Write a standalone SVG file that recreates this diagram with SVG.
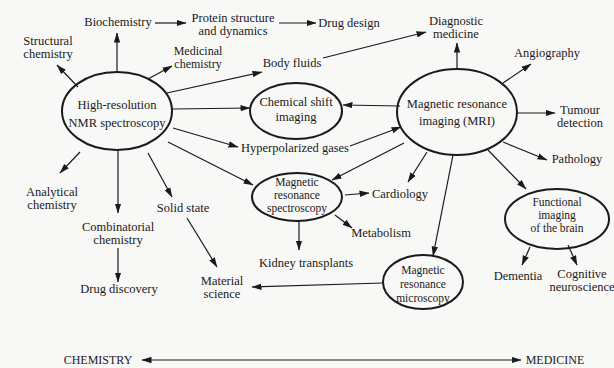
<svg xmlns="http://www.w3.org/2000/svg" width="614" height="368" viewBox="0 0 614 368">
<defs>
<marker id="ah" markerUnits="userSpaceOnUse" markerWidth="10" markerHeight="7" refX="9.5" refY="3.5" orient="auto-start-reverse">
<path d="M0,0.3 L10,3.5 L0,6.7 Z" fill="#1a1a1a"/>
</marker>
<style>
text{font-family:"Liberation Serif","Times New Roman",serif;font-size:12.5px;fill:#1a1a1a;text-anchor:middle}
.sm{font-size:11.5px}
.md{font-size:12px}
ellipse{fill:none;stroke:#1a1a1a;stroke-width:2}
.c line{stroke:#1a1a1a;stroke-width:1.2;fill:none;marker-end:url(#ah)}
.c .both{marker-start:url(#ah)}
</style>
</defs>
<rect width="614" height="368" fill="#f8f8f7"/>
<g class="c" id="connectors">
<line x1="155" y1="23" x2="186" y2="23"/>
<line x1="279" y1="23" x2="316" y2="23"/>
<line x1="117" y1="72" x2="117" y2="33"/>
<line x1="78" y1="87" x2="57" y2="65"/>
<line x1="148" y1="79" x2="172" y2="66"/>
<line x1="167" y1="93" x2="262" y2="72"/>
<line x1="323" y1="58" x2="426" y2="32"/>
<line x1="172" y1="109" x2="250" y2="108"/>
<line x1="173" y1="128" x2="238" y2="147"/>
<line x1="168" y1="142" x2="253" y2="185"/>
<line x1="80" y1="152" x2="60" y2="173"/>
<line x1="118" y1="151" x2="118" y2="213"/>
<line x1="118" y1="248" x2="118" y2="282"/>
<line x1="148" y1="153" x2="172" y2="197"/>
<line x1="187" y1="218" x2="217" y2="267"/>
<line x1="383" y1="283" x2="252" y2="287"/>
<line x1="457" y1="69" x2="457" y2="43"/>
<line x1="503" y1="83" x2="531" y2="64"/>
<line x1="517" y1="113" x2="555" y2="113"/>
<line x1="503" y1="142" x2="547" y2="160"/>
<line x1="488" y1="150" x2="526" y2="189"/>
<line x1="453" y1="155" x2="433" y2="256"/>
<line x1="427" y1="152" x2="408" y2="182"/>
<line x1="400" y1="106" x2="343" y2="105"/>
<line x1="350" y1="146" x2="401" y2="127"/>
<line x1="404" y1="143" x2="332" y2="180"/>
<line x1="345" y1="195" x2="369" y2="193"/>
<line x1="335" y1="215" x2="352" y2="228"/>
<line x1="299" y1="221" x2="299" y2="250"/>
<line x1="530" y1="247" x2="522" y2="265"/>
<line x1="568" y1="245" x2="577" y2="265"/>
<line class="both" x1="142" y1="360" x2="521" y2="360"/>
</g>
<g id="nmr"><ellipse cx="117" cy="111" rx="55" ry="39"/><text x="117" y="109">High-resolution</text><text x="117" y="127">NMR spectroscopy</text></g>
<g id="csi"><ellipse cx="296" cy="111" rx="46" ry="28"/><text x="296" y="106">Chemical shift</text><text x="296" y="121">imaging</text></g>
<g id="mri"><ellipse cx="457" cy="112" rx="60" ry="43"/><text x="457" y="108">Magnetic resonance</text><text x="457" y="125">imaging (MRI)</text></g>
<g id="mrs"><ellipse cx="297" cy="197" rx="45" ry="24"/><text class="sm" x="297" y="186">Magnetic</text><text class="sm" x="297" y="199">resonance</text><text class="sm" x="297" y="212">spectroscopy</text></g>
<g id="fib"><ellipse cx="557" cy="219" rx="52" ry="30"/><text class="sm" x="557" y="206">Functional</text><text class="sm" x="557" y="219">imaging</text><text class="sm" x="557" y="232">of the brain</text></g>
<g id="mrm"><ellipse cx="423" cy="282" rx="40" ry="27"/><text class="sm" x="423" y="274">Magnetic</text><text class="sm" x="423" y="288">resonance</text><text class="sm" x="423" y="302">microscopy</text></g>
<g id="biochem"><text x="118" y="26">Biochemistry</text></g>
<g id="protein"><text x="233" y="22">Protein structure</text><text x="233" y="35">and dynamics</text></g>
<g id="drugdesign"><text x="349" y="27">Drug design</text></g>
<g id="diag"><text x="456" y="25">Diagnostic</text><text x="456" y="38">medicine</text></g>
<g id="struct"><text x="48" y="45">Structural</text><text x="48" y="58">chemistry</text></g>
<g id="medchem"><text class="md" x="198" y="55">Medicinal</text><text class="md" x="198" y="68">chemistry</text></g>
<g id="bodyfluids"><text x="292" y="67">Body fluids</text></g>
<g id="angio"><text x="547" y="57">Angiography</text></g>
<g id="tumour"><text x="580" y="114">Tumour</text><text x="580" y="127">detection</text></g>
<g id="hyper"><text x="295" y="152">Hyperpolarized gases</text></g>
<g id="patho"><text x="577" y="163">Pathology</text></g>
<g id="analyt"><text x="52" y="196">Analytical</text><text x="52" y="209">chemistry</text></g>
<g id="solid"><text x="183" y="212">Solid state</text></g>
<g id="cardio"><text x="400" y="198">Cardiology</text></g>
<g id="comb"><text x="118" y="231">Combinatorial</text><text x="118" y="244">chemistry</text></g>
<g id="metab"><text x="381" y="237">Metabolism</text></g>
<g id="kidney"><text x="306" y="267">Kidney transplants</text></g>
<g id="dementia"><text x="518" y="280">Dementia</text></g>
<g id="cog"><text x="582" y="278">Cognitive</text><text x="582" y="291">neuroscience</text></g>
<g id="material"><text x="222" y="285">Material</text><text x="222" y="298">science</text></g>
<g id="drugdisc"><text x="119" y="293">Drug discovery</text></g>
<g id="chemistry"><text class="md" x="98" y="364">CHEMISTRY</text></g>
<g id="medicine"><text class="md" x="555" y="364">MEDICINE</text></g>
</svg>
